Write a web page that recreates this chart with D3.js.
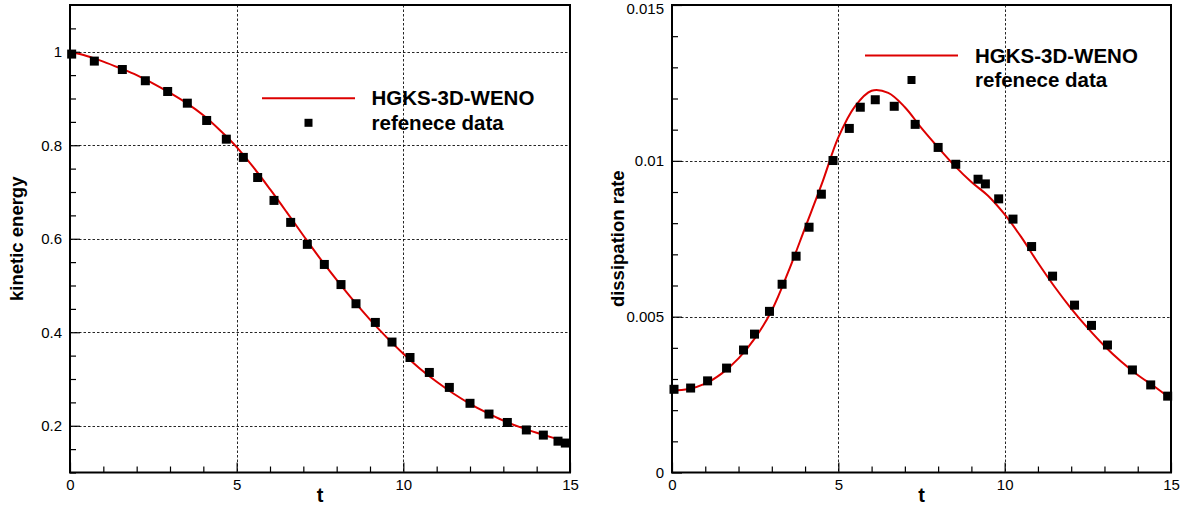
<!DOCTYPE html>
<html>
<head>
<meta charset="utf-8">
<script src="https://cdn.jsdelivr.net/npm/d3@7"></script>
<style>
  html, body { margin: 0; padding: 0; background: #fff; }
  svg { display: block; }
  text { font-family: "Liberation Sans", Arial, Helvetica, sans-serif; fill: #000; }
</style>
</head>
<body>
<svg id="chart" width="1194" height="511"></svg>
<script>
// ---- data -------------------------------------------------------------
// kinetic energy, reference samples
const keRefT = [0.05, 0.73, 1.57, 2.26, 2.93, 3.52, 4.1, 4.69, 5.2, 5.63, 6.12, 6.62, 7.12, 7.63,
                8.13, 8.58, 9.16, 9.66, 10.2, 10.78, 11.38, 12.0, 12.57, 13.12, 13.69, 14.2, 14.64, 14.86];
const keRefV = [0.995, 0.980, 0.962, 0.938, 0.915, 0.890, 0.853, 0.813, 0.774, 0.731, 0.682, 0.635, 0.588, 0.545,
                0.502, 0.461, 0.421, 0.379, 0.346, 0.314, 0.282, 0.248, 0.225, 0.207, 0.191, 0.180, 0.167, 0.163];
// kinetic energy, HGKS-3D-WENO
const keSimT = [0, 0.5, 1, 1.5, 2, 2.5, 3, 3.5, 4, 4.5, 5, 5.5, 6, 6.5, 7, 7.5,
                8, 8.5, 9, 9.5, 10, 10.5, 11, 11.5, 12, 12.5, 13, 13.5, 14, 14.5, 15];
const keSimV = [1.000, 0.991, 0.979, 0.965, 0.950, 0.932, 0.912, 0.890, 0.864, 0.832, 0.796, 0.753, 0.706, 0.657, 0.607, 0.558,
                0.512, 0.468, 0.427, 0.389, 0.354, 0.322, 0.294, 0.269, 0.247, 0.228, 0.211, 0.197, 0.185, 0.174, 0.164];

// dissipation rate, reference samples
const drRefT = [0.06, 0.56, 1.07, 1.64, 2.15, 2.48, 2.93, 3.31, 3.73, 4.12, 4.49, 4.84, 5.33, 5.66, 6.11, 6.68,
                7.31, 8.0, 8.53, 9.2, 9.42, 9.82, 10.25, 10.81, 11.44, 12.1, 12.61, 13.09, 13.84, 14.39, 14.9];
const drRefV = [0.00267, 0.00271, 0.00294, 0.00335, 0.00393, 0.00444, 0.00517, 0.00604, 0.00694, 0.00787, 0.00893,
                0.01001, 0.01104, 0.01172, 0.01196, 0.01175, 0.01117, 0.01043, 0.00989, 0.00941, 0.00926, 0.00878,
                0.00813, 0.00725, 0.0063, 0.00537, 0.00472, 0.00409, 0.00329, 0.00281, 0.00245];
// dissipation rate, HGKS-3D-WENO
const drSimT = [0, 0.5, 1, 1.5, 2, 2.5, 3, 3.5, 4, 4.5, 5, 5.5, 6, 6.5, 7, 7.5,
                8, 8.5, 9, 9.5, 10, 10.5, 11, 11.5, 12, 12.5, 13, 13.5, 14, 14.5, 15];
const drSimV = [0.00263, 0.00268, 0.00285, 0.00318, 0.00366, 0.00432, 0.0052, 0.00645, 0.00785, 0.00925, 0.01075, 0.01175,
                0.01225, 0.01218, 0.01172, 0.01105, 0.01043, 0.00984, 0.00932, 0.00888, 0.00828, 0.00755, 0.00673,
                0.00596, 0.00526, 0.00463, 0.00406, 0.00356, 0.00313, 0.00276, 0.00236];

// axis ticks and labels
const tMajor = [0, 5, 10, 15];
const tMinor = [1, 2, 3, 4, 6, 7, 8, 9, 11, 12, 13, 14];
const tLabels = ["0", "5", "10", "15"];
const keMajor = [0.2, 0.4, 0.6, 0.8, 1.0];
const keLabels = ["0.2", "0.4", "0.6", "0.8", "1"];
const keMinor = [0.1, 0.15, 0.25, 0.3, 0.35, 0.45, 0.5, 0.55, 0.65, 0.7, 0.75, 0.85, 0.9, 0.95, 1.05];
const drMajor = [0, 0.005, 0.01, 0.015];
const drLabels = ["0", "0.005", "0.01", "0.015"];
const drMinor = [0.001, 0.002, 0.003, 0.004, 0.006, 0.007, 0.008, 0.009, 0.011, 0.012, 0.013, 0.014];

const seriesNames = ["HGKS-3D-WENO", "refenece data"];

// ---- drawing ----------------------------------------------------------
const svg = d3.select("#chart");
const RED = "#dd0000";

function panel(cfg) {
  const g = svg.append("g");
  const x = d3.scaleLinear().domain([0, 15]).range([cfg.left, cfg.right]);
  const y = d3.scaleLinear().domain(cfg.yDomain).range([cfg.bottom, cfg.top]);

  // dotted grid at the major ticks
  const grid = g.append("g").attr("stroke", "#000").attr("stroke-width", 1)
    .attr("stroke-dasharray", "2.5,2").attr("stroke-opacity", 0.85);
  grid.selectAll(".gx").data(tMajor.slice(1, -1)).join("line")
    .attr("x1", d => Math.round(x(d)) + 0.5).attr("x2", d => Math.round(x(d)) + 0.5)
    .attr("y1", cfg.top).attr("y2", cfg.bottom);
  grid.selectAll(".gy").data(cfg.yMajor.filter(v => v > cfg.yDomain[0] && v < cfg.yDomain[1])).join("line")
    .attr("x1", cfg.left).attr("x2", cfg.right)
    .attr("y1", d => Math.round(y(d)) + 0.5).attr("y2", d => Math.round(y(d)) + 0.5);

  // simulation curve
  const lineGen = d3.line().x(d => x(d[0])).y(d => y(d[1])).curve(d3.curveCatmullRom.alpha(0.5));
  g.append("path")
    .datum(cfg.simT.map((t, i) => [t, cfg.simV[i]]))
    .attr("d", lineGen).attr("fill", "none").attr("stroke", RED).attr("stroke-width", 2);

  // reference markers
  const s = 9;
  g.selectAll(".pt").data(cfg.refT.map((t, i) => [t, cfg.refV[i]])).join("rect")
    .attr("x", d => x(d[0]) - s / 2).attr("y", d => y(d[1]) - s / 2)
    .attr("width", s).attr("height", s).attr("fill", "#000");

  // axes with inward ticks
  const fmtX = d => tLabels[tMajor.indexOf(d)];
  const fmtY = d => cfg.yLabels[cfg.yMajor.indexOf(d)];
  const ax = g.append("g").attr("transform", `translate(0,${cfg.bottom})`)
    .call(d3.axisBottom(x).tickValues(tMajor).tickSize(-10).tickPadding(7).tickFormat(fmtX));
  const axm = g.append("g").attr("transform", `translate(0,${cfg.bottom})`)
    .call(d3.axisBottom(x).tickValues(tMinor).tickSize(-6).tickFormat(""));
  const ay = g.append("g").attr("transform", `translate(${cfg.left},0)`)
    .call(d3.axisLeft(y).tickValues(cfg.yMajor).tickSize(-10).tickPadding(8).tickFormat(fmtY));
  const aym = g.append("g").attr("transform", `translate(${cfg.left},0)`)
    .call(d3.axisLeft(y).tickValues(cfg.yMinor).tickSize(-6).tickFormat(""));
  [ax, axm, ay, aym].forEach(a => {
    a.select(".domain").remove();
    a.selectAll("line").attr("stroke", "#000").attr("stroke-width", 1.2);
    a.selectAll("text").style("font-size", "15px").style("font-family", "'Liberation Sans', Arial, sans-serif");
  });
  // keep the topmost y label inside the page
  ay.selectAll(".tick").filter(d => y(d) < cfg.top + 3).select("text").attr("y", 4);

  // frame
  g.append("rect").attr("x", cfg.left).attr("y", cfg.top)
    .attr("width", cfg.right - cfg.left).attr("height", cfg.bottom - cfg.top)
    .attr("fill", "none").attr("stroke", "#000").attr("stroke-width", 2);

  // axis titles
  g.append("text").attr("x", x(7.5)).attr("y", 501.5).attr("text-anchor", "middle")
    .style("font-size", "20px").style("font-weight", "bold").text("t");
  g.append("text")
    .attr("transform", `translate(${cfg.titleX},${(cfg.top + cfg.bottom) / 2}) rotate(-90)`)
    .attr("text-anchor", "middle").style("font-size", "18.5px").style("font-weight", "bold")
    .text(cfg.yTitle);

  // legend
  const L = cfg.legend;
  g.append("line").attr("x1", L.x1).attr("x2", L.x2).attr("y1", L.y).attr("y2", L.y)
    .attr("stroke", RED).attr("stroke-width", 2);
  g.append("rect").attr("x", (L.x1 + L.x2) / 2 - 4).attr("y", L.y + L.gap - 4)
    .attr("width", 8).attr("height", 8).attr("fill", "#000");
  g.selectAll(".lt").data(seriesNames).join("text")
    .attr("x", L.tx).attr("y", (d, i) => L.y + 7 + i * L.gap)
    .style("font-size", "20.5px").style("font-weight", "bold").text(d => d);
}

panel({
  left: 70, right: 570, top: 5, bottom: 472.5,
  yDomain: [0.1, 1.1], yMajor: keMajor, yLabels: keLabels, yMinor: keMinor,
  simT: keSimT, simV: keSimV, refT: keRefT, refV: keRefV,
  yTitle: "kinetic energy", titleX: 23,
  legend: { x1: 262, x2: 355, y: 98.3, gap: 24.5, tx: 371.5 }
});

panel({
  left: 672, right: 1171, top: 5, bottom: 472.5,
  yDomain: [0, 0.015], yMajor: drMajor, yLabels: drLabels, yMinor: drMinor,
  simT: drSimT, simV: drSimV, refT: drRefT, refV: drRefV,
  yTitle: "dissipation rate", titleX: 624,
  legend: { x1: 865, x2: 958, y: 55.5, gap: 24.5, tx: 975 }
});
</script>
</body>
</html>
